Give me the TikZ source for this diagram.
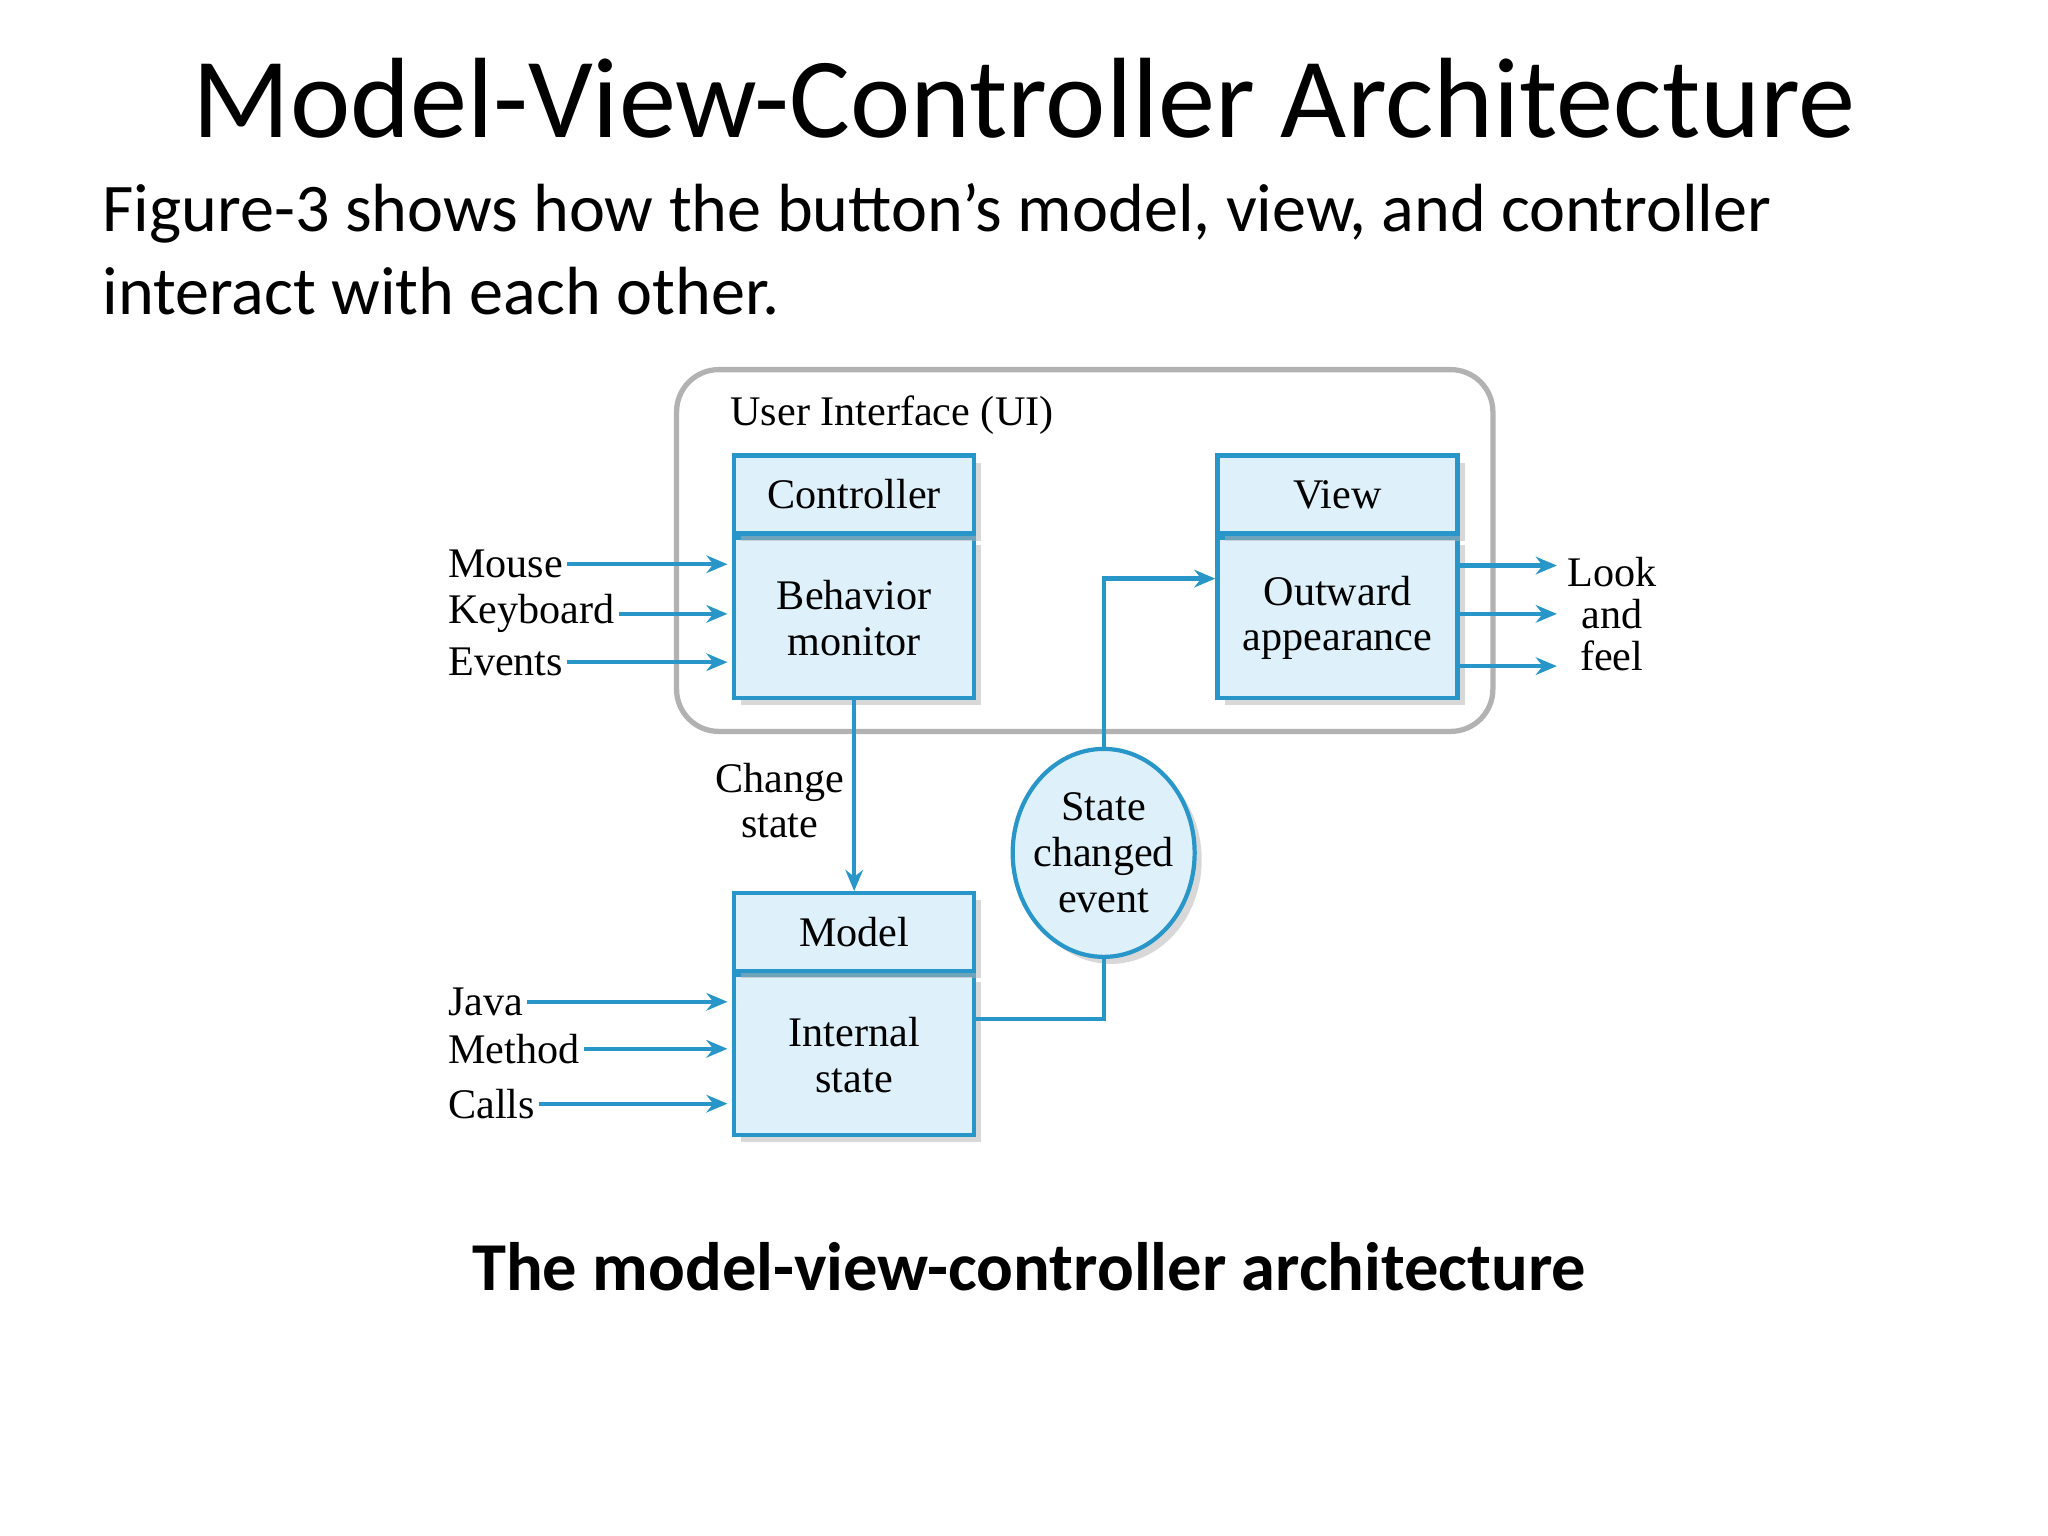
\documentclass[tikz,border=0pt]{standalone}
\usepackage{fontspec}
\setmainfont{Carlito}
\newfontfamily\figfont{Liberation Serif}
\usetikzlibrary{positioning,shadows,arrows.meta,shapes.geometric}
\definecolor{mvcline}{RGB}{40,150,200}
\definecolor{mvcfill}{RGB}{222,240,250}
\begin{document}
\begin{tikzpicture}[x=0.01306cm,y=-0.01306cm,
    hdr/.style={draw=mvcline, line width=1.2pt, fill=mvcfill, minimum width=2.4cm, minimum height=0.78cm, font=\figfont\fontsize{12}{13}\selectfont, inner sep=0pt, drop shadow={shadow xshift=2pt, shadow yshift=-2pt, fill=gray!60}},
    body/.style={hdr, minimum height=1.6cm, align=center, text width=2.3cm},
    lbl/.style={font=\figfont\fontsize{12}{13}\selectfont, inner sep=1pt, align=center},
    flow/.style={draw=mvcline, line width=1.2pt, -{Stealth[length=6pt,width=5pt]}}]
\useasboundingbox (0,0) rectangle (1568,1176);
% slide text
\node[font=\fontsize{32.5}{36}\selectfont] (title) at (784,75) {Model-View-Controller Architecture};
\node[font=\fontsize{19.4}{23.5}\selectfont, anchor=north west, align=left, inner sep=0pt] (intro) at (78,140)
  {Figure-3 shows how the button’s model, view, and controller\\interact with each other.};
\node[font=\bfseries\fontsize{19.5}{22}\selectfont] (caption) at (788,970) {The model-view-controller architecture};
% user interface frame
\draw[gray!60, line width=1.5pt, rounded corners=12pt] (518,283) rectangle (1143,560);
\node[lbl, anchor=west] (ui) at (556,318) {User Interface (UI)};
% boxes
\node[body] (behav) at (654,473) {Behavior\\monitor};
\node[hdr, above=0pt of behav] (ctrl) {Controller};
\node[body] (look) at (1024,473) {Outward\\appearance};
\node[hdr, above=0pt of look] (view) {View};
\node[body] (state) at (654,808) {Internal\\state};
\node[hdr, above=0pt of state] (model) {Model};
\node[draw=mvcline, line width=1.2pt, fill=mvcfill, ellipse, lbl, text width=1.5cm, minimum width=1.82cm, minimum height=2.08cm, inner sep=-8pt, drop shadow={shadow xshift=2pt, shadow yshift=-2pt, fill=gray!60}] (event) at (845,653) {State\\changed\\event};
\node[lbl] (chg) at (597,613) {Change\\state};
% inputs
\foreach \t/\y/\n in {Mouse/432/m, Keyboard/470/k, Events/507/e, Java/767/j, Method/803/mt, Calls/845/c} {
  \node[lbl, anchor=west] (in\n) at (340,\y) {\t};
  \coordinate (to\n) at (557,\y);
  \draw[flow] (in\n.east) -- (to\n);
}
% outputs
\foreach \y/\n in {433/1, 470/2, 510/3} {
  \coordinate (from\n) at (1117,\y);
  \coordinate (out\n) at (1192,\y);
  \draw[flow] (from\n) -- (out\n);
}
\node[lbl] (lnf) at (1234,470) {Look\\[-1pt]and\\[-1pt]feel};
% flows
\draw[flow] (behav.south) -- (model.north);
\draw[mvcline, line width=1.2pt] (state.east |- 0,780) -| (event.south);
\draw[flow] (event.north) |- (look.west |- 0,443);
\end{tikzpicture}
\end{document}
